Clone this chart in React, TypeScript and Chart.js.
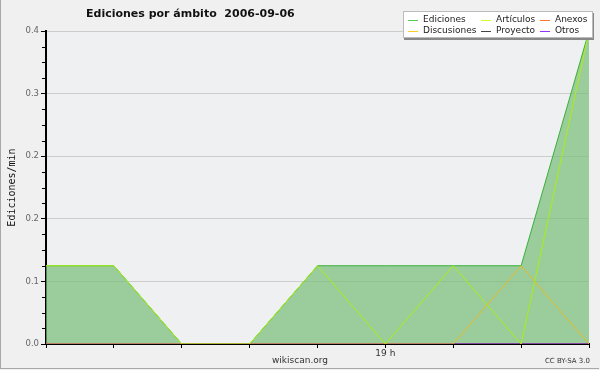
import React, { useEffect, useRef } from "react";
import { Chart, registerables } from "chart.js";

Chart.register(...registerables);

const xTickLabels = ["", "", "", "", "", "19 h", "", "", ""];
const ediciones = [0.1, 0.1, 0, 0, 0.1, 0.1, 0.1, 0.1, 0.4];
const articulos = [0.1, 0.1, 0, 0, 0.1, 0, 0.1, 0, 0.4];
const anexos = [0, 0, 0, 0, 0, 0, 0, 0, 0];
const discusiones = [0, 0, 0, 0, 0, 0, 0, 0.1, 0];
const proyecto = [0, 0, 0, 0, 0, 0, 0, 0, 0];
const otros = [0, 0, 0, 0, 0, 0, 0, 0, 0];
const yTicks = [0, 0.08, 0.16, 0.24, 0.32, 0.4];

const legendItems = [
  { label: "Ediciones", color: "#55cc55" },
  { label: "Artículos", color: "#ccff22" },
  { label: "Anexos", color: "#ff7733" },
  { label: "Discusiones", color: "#ffcc22" },
  { label: "Proyecto", color: "#444444" },
  { label: "Otros", color: "#9933ff" },
];

const FONT = "'DejaVu Sans', sans-serif";

export default function App() {
  const ref = useRef<HTMLCanvasElement | null>(null);
  useEffect(() => {
    document.body.style.margin = "0";
    const bgPlugin = {
      id: "bgPlot",
      beforeDraw(chart: any) {
        const { ctx, chartArea } = chart;
        ctx.save();
        ctx.fillStyle = "#f0f0f0";
        ctx.fillRect(0, 0, chart.width, chart.height);
        ctx.fillStyle = "#eff0f2";
        ctx.fillRect(chartArea.left, chartArea.top, chartArea.right - chartArea.left, chartArea.bottom - chartArea.top);
        ctx.restore();
      },
      afterDraw(chart: any) {
        const { ctx } = chart;
        const y = chart.scales.y;
        ctx.save();
        ctx.strokeStyle = "#000";
        ctx.lineWidth = 1;
        for (let i = 0; i < yTicks.length - 1; i++) {
          const a = yTicks[i];
          const b = yTicks[i + 1];
          for (let k = 1; k < 4; k++) {
            const v = a + ((b - a) * k) / 4;
            const py = Math.round(y.getPixelForValue(v)) + 0.5;
            ctx.beginPath();
            ctx.moveTo(y.right - 4, py);
            ctx.lineTo(y.right, py);
            ctx.stroke();
          }
        }
        ctx.restore();
      },
    };
    const chart = new Chart(ref.current!, {
      type: "line",
      data: {
        labels: xTickLabels,
        datasets: [
          { label: "Ediciones", data: ediciones, borderColor: "#38b038", backgroundColor: "rgba(120,190,120,0.7)", fill: "origin", order: 10 },
          { label: "Anexos", data: anexos, borderColor: "#ff7733", backgroundColor: "#ff7733", order: 9 },
          { label: "Proyecto", data: proyecto, borderColor: "#444444", backgroundColor: "#444444", order: 8 },
          { label: "Otros", data: otros, borderColor: "#9933ff", backgroundColor: "#9933ff", order: 7 },
          { label: "Discusiones", data: discusiones, borderColor: "#e8b820", backgroundColor: "#e8b820", order: 6 },
          { label: "Artículos", data: articulos, borderColor: "#aaee11", backgroundColor: "#aaee11", order: 5 },
        ],
      },
      options: {
        animation: false,
        responsive: false,
        maintainAspectRatio: false,
        elements: { point: { radius: 0 }, line: { borderWidth: 1, tension: 0 } },
        layout: { padding: { left: 0, right: 11, top: 31, bottom: 0 } },
        plugins: { legend: { display: false }, title: { display: false }, tooltip: { enabled: false } },
        scales: {
          x: {
            z: 1,
            offset: false,
            border: { color: "#000", width: 2 },
            grid: { drawOnChartArea: false, tickColor: "#000", tickLength: 4 },
            ticks: { autoSkip: false, maxRotation: 0, padding: 0, color: "#333", font: { family: FONT, size: 9 } },
            afterFit(s: any) { s.height = 26; },
          },
          y: {
            z: 1,
            min: 0,
            max: 0.4,
            afterBuildTicks(s: any) { s.ticks = yTicks.map((v) => ({ value: v })); },
            border: { color: "#000", width: 2 },
            grid: { color: "#cccccc", tickColor: "#000", tickLength: 5 },
            ticks: {
              padding: 2,
              color: "#666",
              font: { family: FONT, size: 8.5 },
              callback: (v: any) => Number(v).toFixed(1),
            },
            title: { display: true, text: "Ediciones/min", color: "#111", font: { family: "'DejaVu Sans Mono', monospace", size: 10 }, padding: { top: 6, bottom: 0 } },
            afterFit(s: any) { s.width = 46; },
          },
        },
      },
      plugins: [bgPlugin],
    });
    return () => chart.destroy();
  }, []);

  return (
    <div style={{ position: "relative", width: 600, height: 370, fontFamily: FONT }}>
      <canvas ref={ref} width={600} height={370} style={{ display: "block" }} />
      <div style={{ position: "absolute", left: 0, top: 0, width: 599, height: 369, borderLeft: "1px solid #a8a8a8", borderBottom: "1px solid #a8a8a8", boxSizing: "border-box", pointerEvents: "none" }} />
      <div style={{ position: "absolute", left: 86, top: 7, fontSize: 11, fontWeight: "bold", whiteSpace: "pre", color: "#111" }}>
        {"Ediciones por ámbito  2006-09-06"}
      </div>
      <div style={{ position: "absolute", left: 270, width: 60, textAlign: "center", top: 355, fontSize: 9, color: "#333" }}>wikiscan.org</div>
      <div style={{ position: "absolute", right: 10, top: 357, fontSize: 7, color: "#333" }}>CC BY-SA 3.0</div>
      <div style={{ position: "absolute", left: 403, top: 11, width: 190, height: 27, background: "#fff", border: "1px solid #bbb", boxShadow: "1px 2px 0 #888", boxSizing: "border-box" }}>
        {legendItems.map((it, i) => {
          const col = i % 3;
          const row = Math.floor(i / 3);
          const lefts = [4, 77, 136];
          return (
            <div key={it.label} style={{ position: "absolute", left: lefts[col], top: 2 + row * 11, height: 11, width: 60, whiteSpace: "nowrap" }}>
              <span style={{ position: "absolute", left: 0, top: 6, width: 10, height: 1, background: it.color }} />
              <span style={{ position: "absolute", left: 15, top: 0, fontSize: 9, color: "#222", lineHeight: "11px" }}>{it.label}</span>
            </div>
          );
        })}
      </div>
    </div>
  );
}
